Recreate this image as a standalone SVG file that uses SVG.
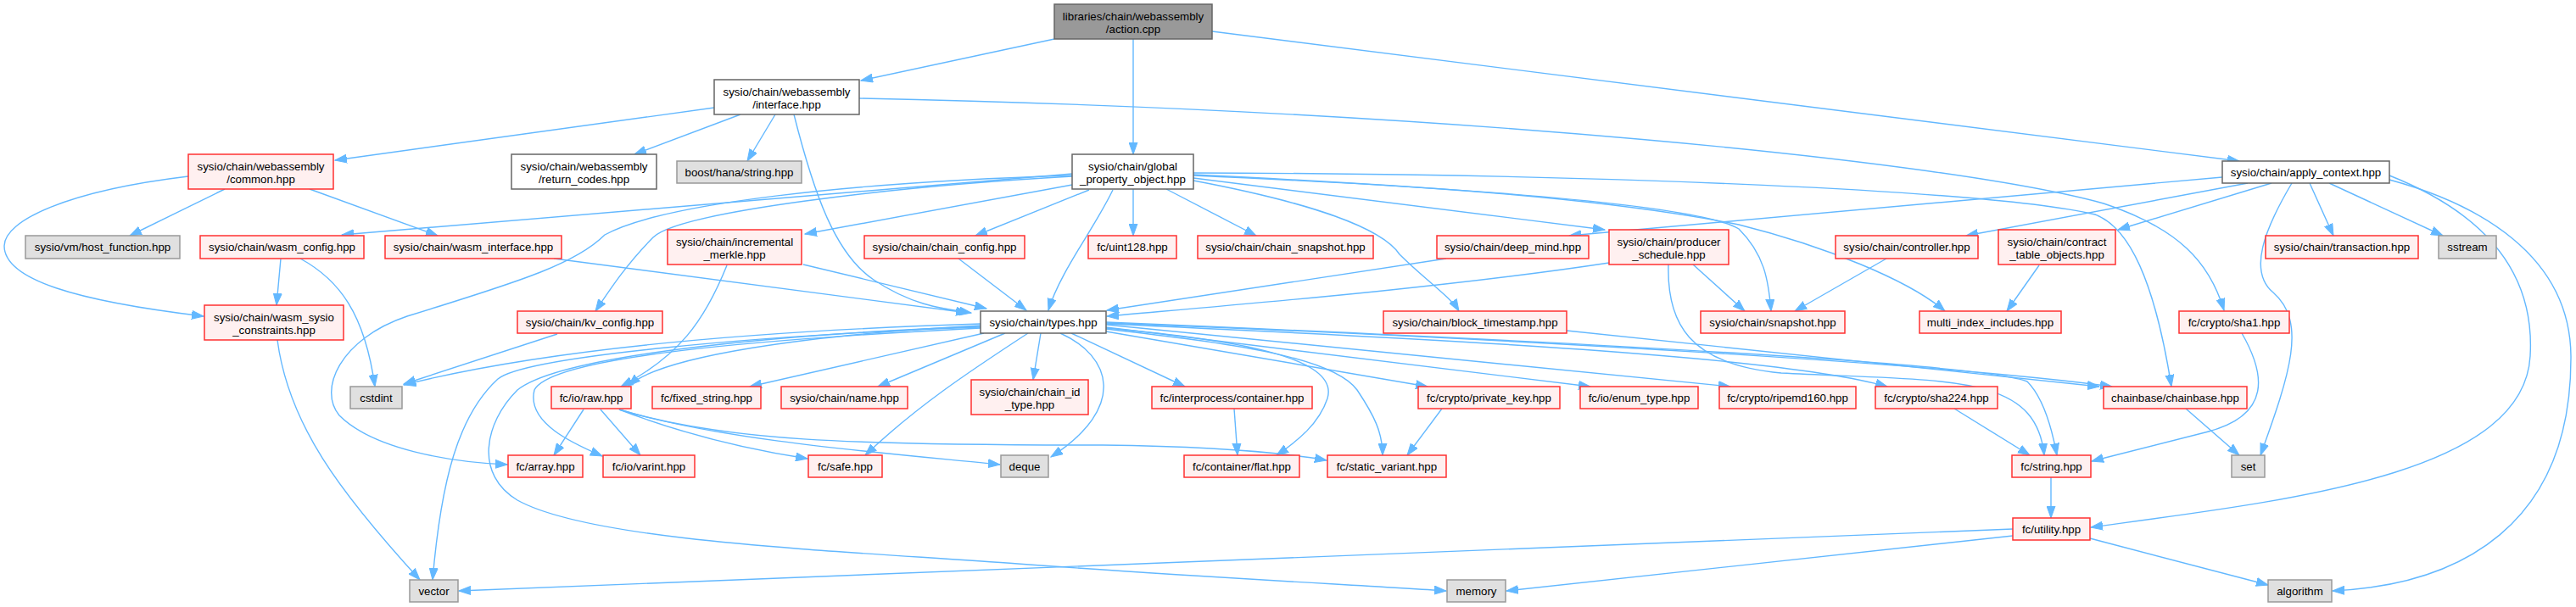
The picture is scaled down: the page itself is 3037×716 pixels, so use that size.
<svg xmlns="http://www.w3.org/2000/svg" width="3037" height="716" viewBox="0 0 3037 716">
<style>
rect{stroke-width:1.5}
.r{fill:#fff0f0;stroke:#ff3030}
.w{fill:#ffffff;stroke:#666666}
.g{fill:#e0e0e0;stroke:#999999}
.m{fill:#999999;stroke:#666666}
text{font-family:"Liberation Sans",Arial,sans-serif;font-size:13.3px;fill:#000;text-anchor:middle}
#edges path{fill:none;stroke:#63b8ff;stroke-width:1.4;marker-end:url(#a)}
</style>
<defs>
<marker id="a" markerWidth="15" markerHeight="11" refX="14" refY="5.5" orient="auto" markerUnits="userSpaceOnUse"><path d="M0,0.5 L14,5.5 L0,10.5 z" fill="#63b8ff" stroke="#63b8ff" stroke-width="1"/></marker>
</defs>
<rect width="3037" height="716" fill="#ffffff"/>
<g id="edges">
<path d="M1243,46 L1015,95"/>
<path d="M1336,46 L1336,182"/>
<path d="M1429,37 L2640,190"/>
<path d="M842,127 L395,189"/>
<path d="M873,135 L748,182"/>
<path d="M914,135 L881,190"/>
<path d="M936,135 C960,230 985,300 1030,330 S1110,364 1145,369"/>
<path d="M1013,116 C1700,130 2300,190 2480,240 C2570,270 2605,310 2622,366"/>
<path d="M265,223 L153,278"/>
<path d="M365,223 L516,278"/>
<path d="M222,208 C80,225 5,260 5,290 C5,330 90,355 240,373"/>
<path d="M331,305 L326,360"/>
<path d="M354,305 C400,330 430,370 442,456"/>
<path d="M653,305 L1141,369"/>
<path d="M947,312 L1163,364"/>
<path d="M857,313 C830,380 800,420 732,456"/>
<path d="M1264,205 L403,277"/>
<path d="M1264,207 C1000,215 780,240 713,277 C680,310 620,330 480,373 C400,400 375,460 400,490 C440,530 530,545 598,548"/>
<path d="M1264,208 C1050,220 800,250 770,280 C740,310 720,340 702,367"/>
<path d="M1264,218 L949,276"/>
<path d="M1284,224 L1150,278"/>
<path d="M1336,223 L1336,278"/>
<path d="M1375,223 L1481,278"/>
<path d="M1312,224 C1290,270 1250,320 1236,366"/>
<path d="M1407,213 C1550,240 1630,270 1650,300 C1680,330 1710,350 1720,367"/>
<path d="M1407,210 L1892,271"/>
<path d="M1407,207 C1700,220 2000,240 2050,270 C2080,300 2085,330 2088,367"/>
<path d="M1407,206 C1700,220 1900,235 2050,265 C2150,290 2250,330 2293,367"/>
<path d="M1407,204 C1900,205 2350,225 2470,253 C2510,268 2540,330 2560,456"/>
<path d="M2620,209 L1850,278"/>
<path d="M2650,216 L2318,278"/>
<path d="M2678,216 L2497,271"/>
<path d="M2723,216 L2751,278"/>
<path d="M2746,216 L2880,278"/>
<path d="M2702,216 C2670,270 2650,320 2680,345 C2720,380 2700,440 2665,537"/>
<path d="M2817,207 C2900,240 2990,300 2983,420 C2975,560 2700,590 2465,622"/>
<path d="M2817,212 C2920,240 3030,300 3031,420 C3032,620 2900,690 2750,697"/>
<path d="M1705,305 L1305,366"/>
<path d="M1897,310 C1700,340 1450,360 1305,373"/>
<path d="M1996,312 L2057,367"/>
<path d="M1967,312 C1965,380 1990,430 2100,440 C2300,450 2400,440 2410,537"/>
<path d="M2224,305 L2116,367"/>
<path d="M2404,313 L2366,367"/>
<path d="M1847,390 L2475,456"/>
<path d="M2643,393 C2670,440 2680,490 2600,510 C2540,525 2500,535 2466,544"/>
<path d="M2304,482 L2393,537"/>
<path d="M2577,482 L2640,537"/>
<path d="M2418,563 L2418,611"/>
<path d="M2373,624 L541,697"/>
<path d="M2373,632 L1776,697"/>
<path d="M2464,635 L2674,690"/>
<path d="M327,401 C340,500 400,580 495,684"/>
<path d="M1156,386 C900,395 620,420 587,447 C540,490 520,567 510,684"/>
<path d="M1156,385 C900,395 660,420 610,460 C570,500 560,560 610,590 C700,640 1000,650 1200,665 C1400,680 1600,690 1705,697"/>
<path d="M1156,382 C900,390 650,410 476,454"/>
<path d="M1156,384 C950,395 780,420 741,455"/>
<path d="M1160,393 L884,456"/>
<path d="M1185,393 L1035,456"/>
<path d="M1156,387 C900,400 650,420 630,460 C620,500 680,525 710,538"/>
<path d="M1212,393 C1140,440 1080,480 1020,537"/>
<path d="M1227,393 L1218,448"/>
<path d="M1250,393 C1310,420 1330,480 1239,539"/>
<path d="M1263,393 L1397,456"/>
<path d="M1304,387 C1450,400 1580,420 1565,470 C1555,500 1530,520 1505,537"/>
<path d="M1304,388 C1450,405 1570,420 1600,460 C1620,490 1630,510 1630,537"/>
<path d="M1304,391 L1683,456"/>
<path d="M1304,386 L1875,456"/>
<path d="M1304,383 L2040,456"/>
<path d="M1304,382 C1700,400 2100,420 2225,456"/>
<path d="M1304,381 C1800,400 2300,430 2490,456"/>
<path d="M1304,380 C1900,405 2340,430 2390,450 C2410,470 2420,510 2425,537"/>
<path d="M688,483 L653,537"/>
<path d="M708,483 L755,537"/>
<path d="M730,483 C800,510 880,530 952,541"/>
<path d="M730,483 C850,520 1050,535 1179,548"/>
<path d="M730,483 C850,520 1000,525 1300,525 C1450,527 1520,535 1564,543"/>
<path d="M1455,482 L1459,537"/>
<path d="M1700,482 L1659,537"/>
<path d="M657,394 L476,453"/>
<path d="M1130,305 L1210,366"/>
</g>
<g id="n_action"><rect class="m" x="1243" y="5" width="186" height="41"/><text x="1336" y="24">libraries/chain/webassembly</text><text x="1336" y="38.5">/action.cpp</text></g>
<g id="n_interface"><rect class="w" x="842" y="94" width="171" height="41"/><text x="927.5" y="113">sysio/chain/webassembly</text><text x="927.5" y="127.5">/interface.hpp</text></g>
<g id="n_common"><rect class="r" x="222" y="182" width="171" height="41"/><text x="307.5" y="201">sysio/chain/webassembly</text><text x="307.5" y="215.5">/common.hpp</text></g>
<g id="n_return_codes"><rect class="w" x="603" y="182" width="171" height="41"/><text x="688.5" y="201">sysio/chain/webassembly</text><text x="688.5" y="215.5">/return_codes.hpp</text></g>
<g id="n_boost"><rect class="g" x="798" y="190" width="147" height="26"/><text x="871.5" y="207.5">boost/hana/string.hpp</text></g>
<g id="n_global"><rect class="w" x="1264" y="182" width="143" height="41"/><text x="1335.5" y="201">sysio/chain/global</text><text x="1335.5" y="215.5">_property_object.hpp</text></g>
<g id="n_apply"><rect class="w" x="2620" y="190" width="197" height="26"/><text x="2718.5" y="207.5">sysio/chain/apply_context.hpp</text></g>
<g id="n_host"><rect class="g" x="30" y="278" width="182" height="27"/><text x="121" y="296">sysio/vm/host_function.hpp</text></g>
<g id="n_wasm_config"><rect class="r" x="236" y="278" width="193" height="27"/><text x="332.5" y="296">sysio/chain/wasm_config.hpp</text></g>
<g id="n_wasm_interface"><rect class="r" x="454" y="278" width="208" height="27"/><text x="558" y="296">sysio/chain/wasm_interface.hpp</text></g>
<g id="n_incremental"><rect class="r" x="787" y="271" width="158" height="41"/><text x="866" y="290">sysio/chain/incremental</text><text x="866" y="304.5">_merkle.hpp</text></g>
<g id="n_chain_config"><rect class="r" x="1019" y="278" width="189" height="27"/><text x="1113.5" y="296">sysio/chain/chain_config.hpp</text></g>
<g id="n_uint128"><rect class="r" x="1283" y="278" width="104" height="27"/><text x="1335" y="296">fc/uint128.hpp</text></g>
<g id="n_chain_snapshot"><rect class="r" x="1412" y="278" width="207" height="27"/><text x="1515.5" y="296">sysio/chain/chain_snapshot.hpp</text></g>
<g id="n_deep_mind"><rect class="r" x="1694" y="278" width="179" height="27"/><text x="1783.5" y="296">sysio/chain/deep_mind.hpp</text></g>
<g id="n_producer"><rect class="r" x="1897" y="271" width="141" height="41"/><text x="1967.5" y="290">sysio/chain/producer</text><text x="1967.5" y="304.5">_schedule.hpp</text></g>
<g id="n_controller"><rect class="r" x="2164" y="278" width="168" height="27"/><text x="2248" y="296">sysio/chain/controller.hpp</text></g>
<g id="n_contract"><rect class="r" x="2356" y="271" width="138" height="41"/><text x="2425" y="290">sysio/chain/contract</text><text x="2425" y="304.5">_table_objects.hpp</text></g>
<g id="n_transaction"><rect class="r" x="2671" y="278" width="180" height="27"/><text x="2761" y="296">sysio/chain/transaction.hpp</text></g>
<g id="n_sstream"><rect class="g" x="2875" y="278" width="68" height="27"/><text x="2909" y="296">sstream</text></g>
<g id="n_constraints"><rect class="r" x="241" y="360" width="164" height="41"/><text x="323" y="379">sysio/chain/wasm_sysio</text><text x="323" y="393.5">_constraints.hpp</text></g>
<g id="n_kv_config"><rect class="r" x="610" y="367" width="171" height="26"/><text x="695.5" y="384.5">sysio/chain/kv_config.hpp</text></g>
<g id="n_types"><rect class="w" x="1156" y="367" width="148" height="26"/><text x="1230" y="384.5">sysio/chain/types.hpp</text></g>
<g id="n_block_timestamp"><rect class="r" x="1631" y="367" width="216" height="26"/><text x="1739" y="384.5">sysio/chain/block_timestamp.hpp</text></g>
<g id="n_snapshot"><rect class="r" x="2005" y="367" width="170" height="26"/><text x="2090" y="384.5">sysio/chain/snapshot.hpp</text></g>
<g id="n_multi_index"><rect class="r" x="2263" y="367" width="167" height="26"/><text x="2346.5" y="384.5">multi_index_includes.hpp</text></g>
<g id="n_sha1"><rect class="r" x="2569" y="367" width="130" height="26"/><text x="2634" y="384.5">fc/crypto/sha1.hpp</text></g>
<g id="n_cstdint"><rect class="g" x="413" y="456" width="61" height="26"/><text x="443.5" y="473.5">cstdint</text></g>
<g id="n_raw"><rect class="r" x="650" y="456" width="94" height="26"/><text x="697" y="473.5">fc/io/raw.hpp</text></g>
<g id="n_fixed_string"><rect class="r" x="769" y="456" width="128" height="26"/><text x="833" y="473.5">fc/fixed_string.hpp</text></g>
<g id="n_name"><rect class="r" x="921" y="456" width="149" height="26"/><text x="995.5" y="473.5">sysio/chain/name.hpp</text></g>
<g id="n_chain_id"><rect class="r" x="1145" y="448" width="138" height="41"/><text x="1214" y="467">sysio/chain/chain_id</text><text x="1214" y="481.5">_type.hpp</text></g>
<g id="n_interprocess"><rect class="r" x="1358" y="456" width="189" height="26"/><text x="1452.5" y="473.5">fc/interprocess/container.hpp</text></g>
<g id="n_private_key"><rect class="r" x="1672" y="456" width="167" height="26"/><text x="1755.5" y="473.5">fc/crypto/private_key.hpp</text></g>
<g id="n_enum_type"><rect class="r" x="1863" y="456" width="139" height="26"/><text x="1932.5" y="473.5">fc/io/enum_type.hpp</text></g>
<g id="n_ripemd160"><rect class="r" x="2027" y="456" width="161" height="26"/><text x="2107.5" y="473.5">fc/crypto/ripemd160.hpp</text></g>
<g id="n_sha224"><rect class="r" x="2211" y="456" width="144" height="26"/><text x="2283" y="473.5">fc/crypto/sha224.hpp</text></g>
<g id="n_chainbase"><rect class="r" x="2480" y="456" width="169" height="26"/><text x="2564.5" y="473.5">chainbase/chainbase.hpp</text></g>
<g id="n_array"><rect class="r" x="599" y="537" width="88" height="26"/><text x="643" y="554.5">fc/array.hpp</text></g>
<g id="n_varint"><rect class="r" x="711" y="537" width="108" height="26"/><text x="765" y="554.5">fc/io/varint.hpp</text></g>
<g id="n_safe"><rect class="r" x="953" y="537" width="87" height="26"/><text x="996.5" y="554.5">fc/safe.hpp</text></g>
<g id="n_deque"><rect class="g" x="1180" y="537" width="56" height="26"/><text x="1208" y="554.5">deque</text></g>
<g id="n_flat"><rect class="r" x="1396" y="537" width="136" height="26"/><text x="1464" y="554.5">fc/container/flat.hpp</text></g>
<g id="n_static_variant"><rect class="r" x="1565" y="537" width="140" height="26"/><text x="1635" y="554.5">fc/static_variant.hpp</text></g>
<g id="n_string"><rect class="r" x="2372" y="537" width="93" height="26"/><text x="2418.5" y="554.5">fc/string.hpp</text></g>
<g id="n_set"><rect class="g" x="2631" y="537" width="39" height="26"/><text x="2650.5" y="554.5">set</text></g>
<g id="n_utility"><rect class="r" x="2373" y="611" width="91" height="26"/><text x="2418.5" y="628.5">fc/utility.hpp</text></g>
<g id="n_vector"><rect class="g" x="483" y="684" width="57" height="26"/><text x="511.5" y="701.5">vector</text></g>
<g id="n_memory"><rect class="g" x="1706" y="684" width="69" height="26"/><text x="1740.5" y="701.5">memory</text></g>
<g id="n_algorithm"><rect class="g" x="2674" y="684" width="75" height="26"/><text x="2711.5" y="701.5">algorithm</text></g>
</svg>
